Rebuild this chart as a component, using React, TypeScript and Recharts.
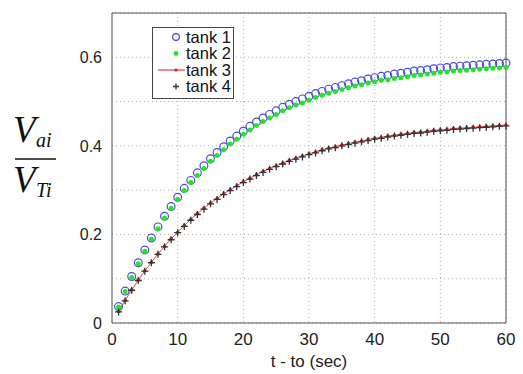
import React from "react";
import {
  LineChart, Line, XAxis, YAxis, CartesianGrid, Legend, ReferenceArea,
} from "recharts";

const TIME = [
  1, 2, 3, 4, 5, 6, 7, 8, 9, 10, 11, 12, 13, 14, 15, 16, 17, 18, 19, 20,
  21, 22, 23, 24, 25, 26, 27, 28, 29, 30, 31, 32, 33, 34, 35, 36, 37, 38, 39, 40,
  41, 42, 43, 44, 45, 46, 47, 48, 49, 50, 51, 52, 53, 54, 55, 56, 57, 58, 59, 60,
];

const TANK1 = [
  0.037, 0.072, 0.105, 0.136, 0.165, 0.192, 0.217, 0.241, 0.263, 0.284,
  0.304, 0.322, 0.339, 0.355, 0.371, 0.385, 0.398, 0.411, 0.422, 0.433,
  0.444, 0.454, 0.463, 0.471, 0.479, 0.487, 0.494, 0.5, 0.506, 0.512,
  0.518, 0.523, 0.528, 0.532, 0.536, 0.54, 0.544, 0.547, 0.551, 0.554,
  0.557, 0.559, 0.562, 0.564, 0.566, 0.569, 0.57, 0.572, 0.574, 0.576,
  0.577, 0.579, 0.58, 0.581, 0.582, 0.583, 0.584, 0.585, 0.586, 0.587,
];

const TANK2 = [
  0.036, 0.071, 0.103, 0.134, 0.162, 0.189, 0.213, 0.237, 0.259, 0.279,
  0.299, 0.317, 0.333, 0.349, 0.365, 0.378, 0.391, 0.404, 0.415, 0.426,
  0.436, 0.446, 0.455, 0.463, 0.471, 0.479, 0.486, 0.492, 0.497, 0.503,
  0.509, 0.514, 0.519, 0.523, 0.527, 0.531, 0.535, 0.538, 0.542, 0.545,
  0.548, 0.549, 0.552, 0.554, 0.556, 0.559, 0.56, 0.562, 0.564, 0.566,
  0.567, 0.569, 0.57, 0.571, 0.572, 0.573, 0.574, 0.575, 0.576, 0.577,
];

const TANK3 = [
  0.026, 0.051, 0.075, 0.097, 0.118, 0.137, 0.156, 0.173, 0.19, 0.205,
  0.22, 0.234, 0.247, 0.259, 0.271, 0.281, 0.292, 0.301, 0.31, 0.319,
  0.327, 0.335, 0.342, 0.349, 0.355, 0.361, 0.367, 0.372, 0.377, 0.382,
  0.386, 0.391, 0.395, 0.398, 0.402, 0.405, 0.408, 0.411, 0.414, 0.417,
  0.419, 0.422, 0.424, 0.426, 0.428, 0.43, 0.431, 0.433, 0.435, 0.436,
  0.437, 0.439, 0.44, 0.441, 0.442, 0.443, 0.444, 0.445, 0.446, 0.447,
];

const TANK4 = [
  0.025, 0.05, 0.074, 0.096, 0.117, 0.136, 0.155, 0.172, 0.188, 0.204,
  0.218, 0.232, 0.245, 0.257, 0.269, 0.279, 0.29, 0.299, 0.308, 0.317,
  0.325, 0.333, 0.34, 0.347, 0.353, 0.359, 0.365, 0.37, 0.375, 0.38,
  0.384, 0.389, 0.393, 0.396, 0.4, 0.403, 0.406, 0.409, 0.412, 0.415,
  0.417, 0.42, 0.422, 0.424, 0.426, 0.428, 0.429, 0.431, 0.433, 0.434,
  0.435, 0.437, 0.438, 0.439, 0.44, 0.441, 0.442, 0.443, 0.444, 0.445,
];

const X_TICKS = [0, 10, 20, 30, 40, 50, 60];
const Y_TICKS = [0, 0.1, 0.2, 0.3, 0.4, 0.5, 0.6, 0.7];
const Y_LABELED = ["0", "0.2", "0.4", "0.6"];
const SERIES_NAMES = ["tank 1", "tank 2", "tank 3", "tank 4"];

const BLUE = "#4b4bd8";
const GREEN = "#22e622";
const RED = "#d62020";
const DARK = "#333333";

const data = TIME.map((t, i) => ({
  t, tank1: TANK1[i], tank2: TANK2[i], tank3: TANK3[i], tank4: TANK4[i],
}));

// marker shapes, MATLAB style
const circleDot = (p: any) => (
  <circle key={p.index} cx={p.cx} cy={p.cy} r={3.9} fill="none" stroke={BLUE} strokeWidth={1.2} />
);
const greenDot = (p: any) => (
  <circle key={p.index} cx={p.cx} cy={p.cy} r={2.5} fill={GREEN} />
);
const redDot = (p: any) => (
  <circle key={p.index} cx={p.cx} cy={p.cy} r={1.8} fill={RED} />
);
const plusDot = (p: any) => (
  <path
    key={p.index}
    d={`M${p.cx - 3.5},${p.cy}H${p.cx + 3.5}M${p.cx},${p.cy - 3.5}V${p.cy + 3.5}`}
    stroke={DARK}
    strokeWidth={1.3}
  />
);

function LegendBox() {
  const rowH = 16.5;
  return (
    <svg width={82} height={72} style={{ display: "block" }}>
      <rect x={0.5} y={0.5} width={81} height={71} fill="#fff" stroke="#444" />
      {SERIES_NAMES.map((name, i) => {
        const y = 10 + i * rowH;
        const mx = 24;
        return (
          <g key={name}>
            {i === 0 && <circle cx={mx} cy={y} r={3.4} fill="none" stroke={BLUE} strokeWidth={1.2} />}
            {i === 1 && <circle cx={mx} cy={y} r={2.4} fill={GREEN} />}
            {i === 2 && (
              <>
                <line x1={6} x2={33} y1={y} y2={y} stroke={RED} strokeWidth={1} />
                <circle cx={mx} cy={y} r={1.6} fill={RED} />
              </>
            )}
            {i === 3 && (
              <path d={`M${mx - 3},${y}H${mx + 3}M${mx},${y - 3}V${y + 3}`} stroke={DARK} strokeWidth={1.3} />
            )}
            <text x={34} y={y + 5.5} fontSize={16.5} fontFamily="Liberation Sans, Arial, sans-serif" fill="#111">
              {name}
            </text>
          </g>
        );
      })}
    </svg>
  );
}

function FractionLabel() {
  const serif = "Liberation Serif, Times New Roman, serif";
  return (
    <g fill="#111" fontFamily={serif} fontStyle="italic">
      <text x={13} y={142} fontSize={37}>V</text>
      <text x={36} y={147} fontSize={20}>ai</text>
      <line x1={15} x2={56} y1={159} y2={159} stroke="#111" strokeWidth={1.5} />
      <text x={13} y={192} fontSize={37}>V</text>
      <text x={36} y={197} fontSize={20}>Ti</text>
    </g>
  );
}

export default function App() {
  const tickStyle = { fontSize: 17, fill: "#222", fontFamily: "Liberation Sans, Arial, sans-serif" };
  return (
    <div style={{ position: "absolute", left: 0, top: 0, width: 523, height: 374, background: "#fff" }}>
      <LineChart width={523} height={374} data={data} margin={{ top: 13, right: 17, bottom: 3, left: 72 }}>
        <CartesianGrid stroke="#b0b0b0" strokeDasharray="1 3" />
        <XAxis
          dataKey="t"
          type="number"
          domain={[0, 60]}
          ticks={X_TICKS}
          tickSize={0}
          tickMargin={10}
          height={48}
          axisLine={false}
          tick={tickStyle}
          label={{
            value: "t - to (sec)",
            position: "insideBottom",
            offset: 4,
            style: { fontSize: 17, fill: "#222", fontFamily: "Liberation Sans, Arial, sans-serif" },
          }}
        />
        <YAxis
          type="number"
          domain={[0, 0.7]}
          ticks={Y_TICKS}
          width={40}
          tickSize={0}
          tickMargin={10}
          axisLine={false}
          tick={{ ...tickStyle, fontSize: 16 }}
          tickFormatter={(v: number) => {
            const s = String(Math.round(v * 10) / 10);
            return Y_LABELED.includes(s) ? s : "";
          }}
          label={{ content: () => <FractionLabel /> }}
        />
        <ReferenceArea x1={0} x2={60} y1={0} y2={0.7} fill="none" stroke="#555" strokeWidth={1} />
        <Line dataKey="tank1" name="tank 1" stroke="none" dot={circleDot} isAnimationActive={false} />
        <Line dataKey="tank2" name="tank 2" stroke="none" dot={greenDot} isAnimationActive={false} />
        <Line dataKey="tank3" name="tank 3" stroke={RED} strokeWidth={0.8} dot={redDot} isAnimationActive={false} />
        <Line dataKey="tank4" name="tank 4" stroke="none" dot={plusDot} isAnimationActive={false} />
        <Legend
          layout="horizontal"
          align="center"
          verticalAlign="middle"
          content={() => <LegendBox />}
          wrapperStyle={{ left: 152, top: 27, width: 82, height: 72 }}
        />
      </LineChart>
    </div>
  );
}
